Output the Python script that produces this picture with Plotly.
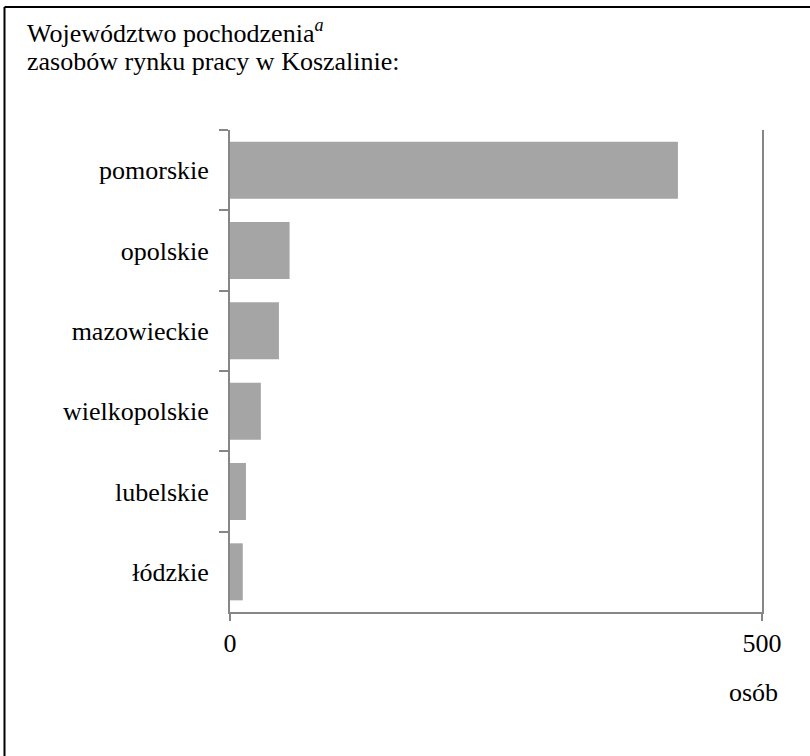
import plotly.graph_objects as go

# Dane: województwo pochodzenia (od góry) i liczba osób
wojewodztwa = ["pomorskie", "opolskie", "mazowieckie", "wielkopolskie", "lubelskie", "łódzkie"]
osoby = [421, 56, 46, 29, 15, 12]
x_ticks = [0, 500]

FONT = "Liberation Serif, Times New Roman, serif"
AXIS = "#868686"

# rozmiar obszaru wykresu w pikselach (do pozycjonowania adnotacji)
PW, PH = 532, 482

fig = go.Figure()

fig.add_trace(go.Bar(
    x=osoby,
    y=wojewodztwa,
    orientation="h",
    marker=dict(color="#a5a5a5", line=dict(width=0)),
    hoverinfo="x+y",
))

fig.update_layout(
    width=810,
    height=756,
    paper_bgcolor="white",
    plot_bgcolor="white",
    showlegend=False,
    bargap=0.29,
    font=dict(family=FONT, size=26, color="black"),
    margin=dict(l=230, r=48, t=130, b=144),
    xaxis=dict(
        range=[0, 500],
        tickvals=x_ticks,
        ticktext=[str(v) for v in x_ticks],
        showgrid=False,
        zeroline=False,
        showline=True,
        linecolor=AXIS,
        linewidth=2,
        ticks="outside",
        ticklen=7,
        tickwidth=2,
        tickcolor=AXIS,
        tickfont=dict(family=FONT, size=26, color="black"),
    ),
    yaxis=dict(
        categoryorder="array",
        categoryarray=wojewodztwa,
        autorange="reversed",
        showgrid=False,
        zeroline=False,
        showline=True,
        mirror=True,
        linecolor=AXIS,
        linewidth=2,
        ticks="outside",
        tickson="boundaries",
        ticklen=9,
        tickwidth=2,
        tickcolor=AXIS,
        ticklabelstandoff=14,
        tickfont=dict(family=FONT, size=26, color="black"),
    ),
)

# Tytuł (dwie linie)
fig.add_annotation(
    text="Województwo pochodzenia<sup><i>a</i></sup>",
    xref="paper", yref="paper",
    x=(25 - 230) / PW, y=1 + (130 - 31) / PH,
    xanchor="left", yanchor="middle", align="left",
    showarrow=False,
    font=dict(family=FONT, size=26, color="black"),
)
fig.add_annotation(
    text="zasobów rynku pracy w Koszalinie:",
    xref="paper", yref="paper",
    x=(25 - 230) / PW, y=1 + (130 - 61) / PH,
    xanchor="left", yanchor="middle", align="left",
    showarrow=False,
    font=dict(family=FONT, size=26, color="black"),
)

# Jednostka osi
fig.add_annotation(
    text="osób",
    xref="paper", yref="paper",
    x=(753 - 230) / PW, y=-(692 - 612) / PH,
    xanchor="center", yanchor="middle",
    showarrow=False,
    font=dict(family=FONT, size=26, color="black"),
)

# Ramka (widoczna tylko lewa i górna krawędź)
fig.add_shape(type="line", xref="paper", yref="paper",
              x0=(4.5 - 230) / PW, x1=(810 - 230) / PW,
              y0=1 + (130 - 7) / PH, y1=1 + (130 - 7) / PH,
              line=dict(color="black", width=2))
fig.add_shape(type="line", xref="paper", yref="paper",
              x0=(4.5 - 230) / PW, x1=(4.5 - 230) / PW,
              y0=1 + (130 - 7) / PH, y1=-(756 - 612) / PH,
              line=dict(color="black", width=2))

fig.write_html("out.html", config={"displayModeBar": False},
               post_script="document.body.style.margin='0';")
